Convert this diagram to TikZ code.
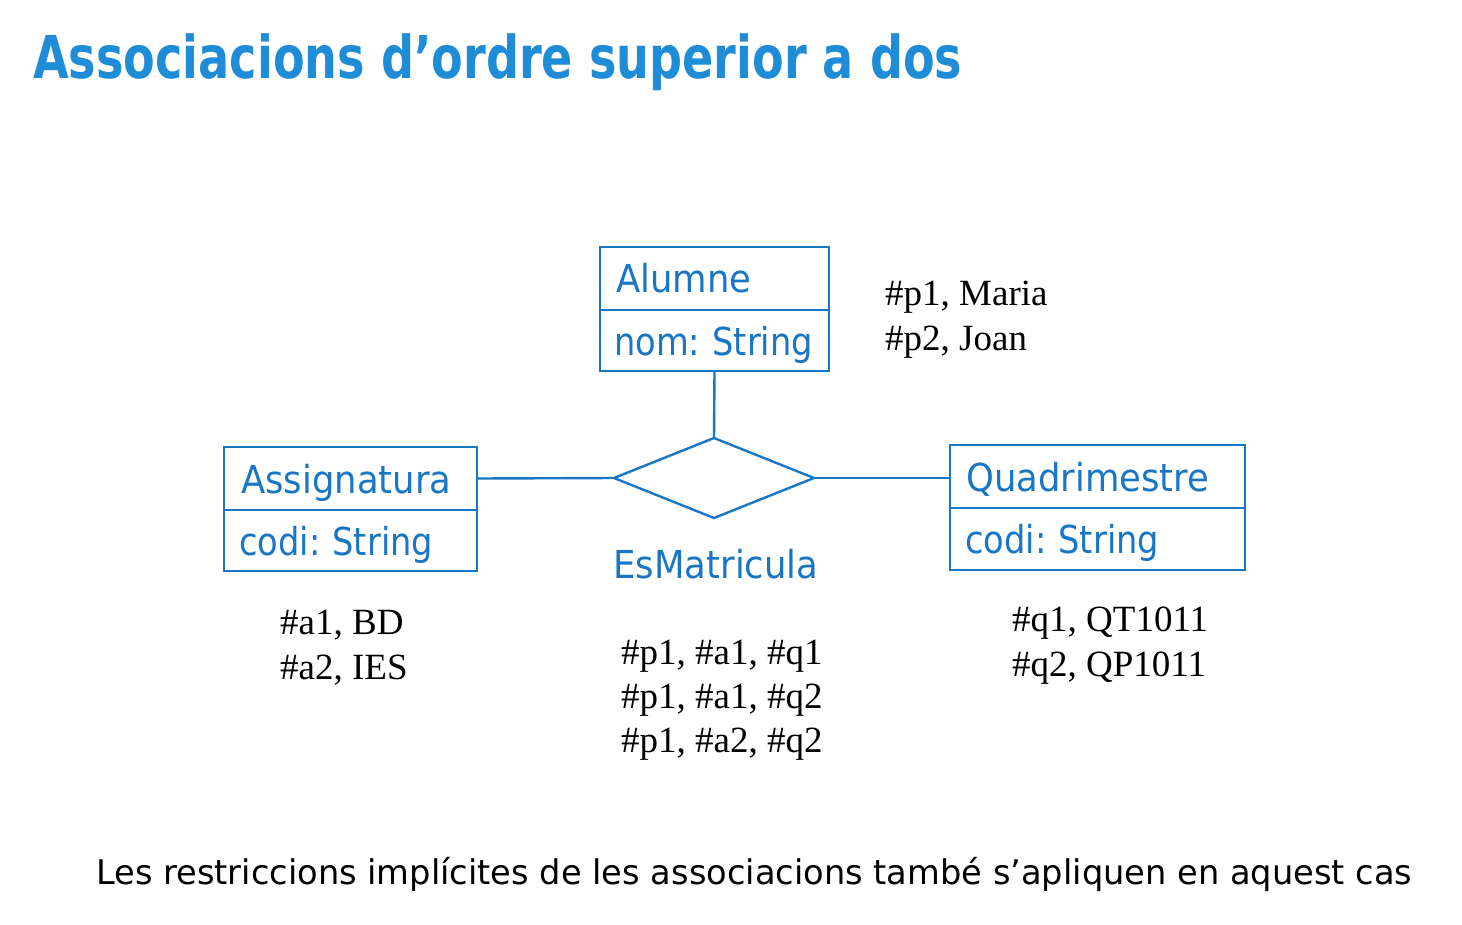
\documentclass[tikz,border=0pt]{standalone}
\usepackage{fontspec}
\usetikzlibrary{shapes.geometric}
\setmainfont{Liberation Serif}
\newfontfamily\titlefont[FakeStretch=0.782]{DejaVu Sans}
\newfontfamily\boxfont[FakeStretch=0.92,WordSpace=0.8]{DejaVu Sans}
\newfontfamily\attrfont[FakeStretch=0.875,WordSpace=0.8]{DejaVu Sans}
\newfontfamily\notefont[FakeStretch=0.99]{DejaVu Sans}
\definecolor{titleblue}{RGB}{30,140,214}
\definecolor{umlblue}{RGB}{25,118,196}
\begin{document}
\begin{tikzpicture}[x=1pt,y=-1pt,
  umlline/.style={draw=umlblue,line width=2.4pt},
  compart/.style={umlline,rectangle,anchor=north west,inner sep=0pt,outer sep=0pt},
  umltext/.style={anchor=base west,inner sep=0pt,text=umlblue,font=\boxfont\fontsize{38.5}{44}\selectfont},
  attrtext/.style={umltext,font=\attrfont\fontsize{38.5}{44}\selectfont},
  relbox/.style={umlline,diamond,minimum width=200pt,minimum height=80pt,inner sep=0pt,outer sep=0pt},
  tuple/.style={anchor=base west,inner sep=0pt,font=\fontsize{37}{45}\selectfont},
]
\useasboundingbox (0,0) rectangle (1462,924);
\fill[white] (0,0) rectangle (1462,924);

% heading
\node[anchor=base west,inner sep=0pt,text=titleblue,font=\titlefont\bfseries\fontsize{59}{62}\selectfont]
  (title) at (33,78) {Associacions d’ordre superior a dos};

% class Alumne
\node[compart,minimum width=229pt,minimum height=63pt] (alH) at (600,247) {};
\node[compart,minimum width=229pt,minimum height=61pt] (alA) at (alH.south west) {};
\node[umltext] (alName) at (616,292) {Alumne};
\node[attrtext] (alAttr) at (614,355) {nom: String};

% class Assignatura
\node[compart,minimum width=253pt,minimum height=63pt] (asH) at (224,447) {};
\node[compart,minimum width=253pt,minimum height=61pt] (asA) at (asH.south west) {};
\node[umltext] (asName) at (241,493) {Assignatura};
\node[attrtext] (asAttr) at (239,555) {codi: String};

% class Quadrimestre
\node[compart,minimum width=295pt,minimum height=63pt] (qH) at (950,445) {};
\node[compart,minimum width=295pt,minimum height=62pt] (qA) at (qH.south west) {};
\node[umltext] (qName) at (966,491) {Quadrimestre};
\node[attrtext] (qAttr) at (965,553) {codi: String};

% ternary association
\node[relbox] (rel) at (714,478) {};
\node[umltext,anchor=base] (relName) at (716,578) {EsMatricula};

\draw[umlline] (alA.south) -- (rel.north);
\draw[umlline] (asH.east) -- (rel.west);
\draw[umlline] (rel.east) -- (rel.east -| qH.west);

% object tuples
\node[tuple] (alT1) at (885,305) {\#p1, Maria};
\node[tuple] (alT2) at (885,350) {\#p2, Joan};
\node[tuple] (asT1) at (280,634) {\#a1, BD};
\node[tuple] (asT2) at (280,679) {\#a2, IES};
\node[tuple] (relT1) at (621,664) {\#p1, \#a1, \#q1};
\node[tuple] (relT2) at (621,708) {\#p1, \#a1, \#q2};
\node[tuple] (relT3) at (621,752) {\#p1, \#a2, \#q2};
\node[tuple] (qT1) at (1012,631) {\#q1, QT1011};
\node[tuple] (qT2) at (1012,676) {\#q2, QP1011};

% footnote
\node[anchor=base west,inner sep=0pt,font=\notefont\fontsize{34}{40}\selectfont]
  (note) at (96,884) {Les restriccions implícites de les associacions també s’apliquen en aquest cas};
\end{tikzpicture}
\end{document}
